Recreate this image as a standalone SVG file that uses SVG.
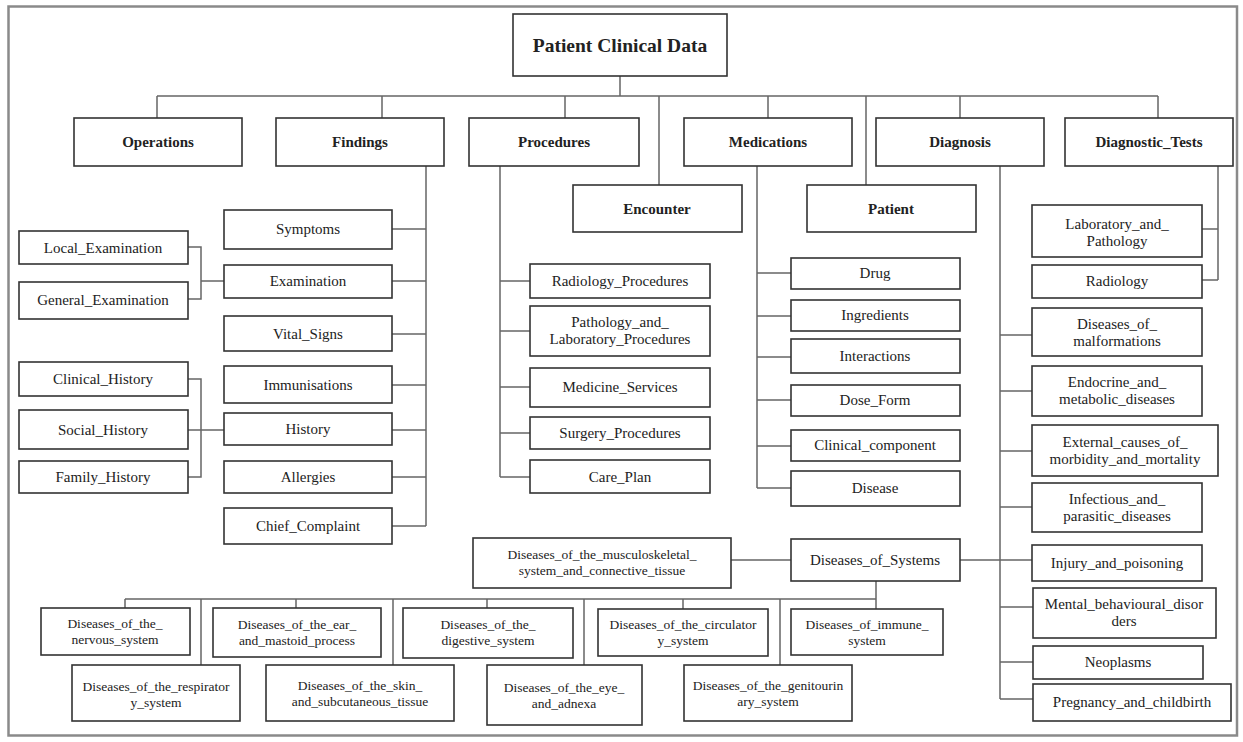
<svg xmlns="http://www.w3.org/2000/svg" width="1243" height="742" viewBox="0 0 1243 742">
<style>
.bg{fill:#fff}
.frame{fill:none;stroke:#8a8a8a;stroke-width:2.5}
.box{fill:#fff;stroke:#333;stroke-width:1.6}
.c{fill:none;stroke:#666;stroke-width:1.5}
text{font-family:"Liberation Serif","Times New Roman",serif;fill:#222;text-anchor:middle}
.t{font-size:15px}
.b{font-size:15px;font-weight:bold}
.h{font-size:19.5px;font-weight:bold}
.s{font-size:13.5px}
</style>
<rect class="bg" x="0" y="0" width="1243" height="742"/>
<rect class="frame" x="8.5" y="6.5" width="1228.5" height="729"/>
<g id="connectors">
<path class="c" d="M620 76V96M157 96H1158M157 96V118M382 96V118M565 96V118M659 96V185M768 96V118M866 96V185M960 96V118M1158 96V118"/>
<path class="c" d="M426 166V526M392 229H426M392 281H426M392 334H426M392 385H426M392 430H426M392 477H426M392 526H426"/>
<path class="c" d="M188 247H201V299H188M201 281H224M188 379H201V477H188M188 430H224"/>
<path class="c" d="M500 166V477M500 281H530M500 331H530M500 387H530M500 433H530M500 477H530"/>
<path class="c" d="M757 166V488M757 273H791M757 316H791M757 357H791M757 400H791M757 446H791M757 488H791"/>
<path class="c" d="M1218 166V280M1202 229H1218M1202 280H1218"/>
<path class="c" d="M1000 166V699M1000 335H1032M1000 391H1032M1000 451H1032M1000 507H1032M1000 607H1033M1000 662H1033M1000 699H1033"/>
<path class="c" d="M960 560H1032M731 560H791M876 581V609M125 599H876"/>
<path class="c" d="M125 599V608M201 599V665M296 599V608M393 599V665M487 599V608M584 599V665M683 599V609M780 599V665"/>
</g>
<g id="patient_clinical_data"><rect class="box" x="513" y="14" width="214" height="62"/><text class="h" x="620" y="52">Patient Clinical Data</text></g>
<g id="operations"><rect class="box" x="74" y="118" width="168" height="48"/><text class="b" x="158" y="147">Operations</text></g>
<g id="findings"><rect class="box" x="276" y="118" width="168" height="48"/><text class="b" x="360" y="147">Findings</text></g>
<g id="procedures"><rect class="box" x="469" y="118" width="170" height="48"/><text class="b" x="554" y="147">Procedures</text></g>
<g id="medications"><rect class="box" x="684" y="118" width="168" height="48"/><text class="b" x="768" y="147">Medications</text></g>
<g id="diagnosis"><rect class="box" x="876" y="118" width="168" height="48"/><text class="b" x="960" y="147">Diagnosis</text></g>
<g id="diagnostic_tests"><rect class="box" x="1065" y="118" width="168" height="48"/><text class="b" x="1149" y="147">Diagnostic_Tests</text></g>
<g id="encounter"><rect class="box" x="573" y="185" width="169" height="47"/><text class="b" x="657" y="214">Encounter</text></g>
<g id="patient"><rect class="box" x="807" y="185" width="169" height="47"/><text class="b" x="891" y="214">Patient</text></g>

<g id="local_examination"><rect class="box" x="19" y="231" width="169" height="33"/><text class="t" x="103" y="253">Local_Examination</text></g>
<g id="general_examination"><rect class="box" x="19" y="282" width="169" height="37"/><text class="t" x="103" y="305">General_Examination</text></g>
<g id="clinical_history"><rect class="box" x="19" y="362" width="169" height="34"/><text class="t" x="103" y="384">Clinical_History</text></g>
<g id="social_history"><rect class="box" x="19" y="410" width="169" height="39"/><text class="t" x="103" y="435">Social_History</text></g>
<g id="family_history"><rect class="box" x="19" y="461" width="169" height="32"/><text class="t" x="103" y="482">Family_History</text></g>

<g id="symptoms"><rect class="box" x="224" y="210" width="168" height="39"/><text class="t" x="308" y="234">Symptoms</text></g>
<g id="examination"><rect class="box" x="224" y="265" width="168" height="33"/><text class="t" x="308" y="286">Examination</text></g>
<g id="vital_signs"><rect class="box" x="224" y="316" width="168" height="35"/><text class="t" x="308" y="339">Vital_Signs</text></g>
<g id="immunisations"><rect class="box" x="224" y="366" width="168" height="37"/><text class="t" x="308" y="390">Immunisations</text></g>
<g id="history"><rect class="box" x="224" y="413" width="168" height="32"/><text class="t" x="308" y="434">History</text></g>
<g id="allergies"><rect class="box" x="224" y="461" width="168" height="32"/><text class="t" x="308" y="482">Allergies</text></g>
<g id="chief_complaint"><rect class="box" x="224" y="508" width="168" height="36"/><text class="t" x="308" y="531">Chief_Complaint</text></g>

<g id="radiology_procedures"><rect class="box" x="530" y="264" width="180" height="34"/><text class="t" x="620" y="286">Radiology_Procedures</text></g>
<g id="pathology_and_laboratory_procedures"><rect class="box" x="530" y="306" width="180" height="50"/><text class="t" x="620" y="327">Pathology_and_</text><text class="t" x="620" y="344">Laboratory_Procedures</text></g>
<g id="medicine_services"><rect class="box" x="530" y="368" width="180" height="39"/><text class="t" x="620" y="392">Medicine_Services</text></g>
<g id="surgery_procedures"><rect class="box" x="530" y="417" width="180" height="32"/><text class="t" x="620" y="438">Surgery_Procedures</text></g>
<g id="care_plan"><rect class="box" x="530" y="460" width="180" height="33"/><text class="t" x="620" y="482">Care_Plan</text></g>

<g id="drug"><rect class="box" x="791" y="258" width="169" height="31"/><text class="t" x="875" y="278">Drug</text></g>
<g id="ingredients"><rect class="box" x="791" y="300" width="169" height="31"/><text class="t" x="875" y="320">Ingredients</text></g>
<g id="interactions"><rect class="box" x="791" y="339" width="169" height="34"/><text class="t" x="875" y="361">Interactions</text></g>
<g id="dose_form"><rect class="box" x="791" y="385" width="169" height="31"/><text class="t" x="875" y="405">Dose_Form</text></g>
<g id="clinical_component"><rect class="box" x="791" y="430" width="169" height="31"/><text class="t" x="875" y="450">Clinical_component</text></g>
<g id="disease"><rect class="box" x="791" y="471" width="169" height="35"/><text class="t" x="875" y="493">Disease</text></g>

<g id="laboratory_and_pathology"><rect class="box" x="1032" y="205" width="170" height="52"/><text class="t" x="1117" y="229">Laboratory_and_</text><text class="t" x="1117" y="246">Pathology</text></g>
<g id="radiology"><rect class="box" x="1032" y="265" width="170" height="33"/><text class="t" x="1117" y="286">Radiology</text></g>
<g id="diseases_of_malformations"><rect class="box" x="1032" y="308" width="170" height="48"/><text class="t" x="1117" y="329">Diseases_of_</text><text class="t" x="1117" y="346">malformations</text></g>
<g id="endocrine_and_metabolic_diseases"><rect class="box" x="1032" y="366" width="170" height="50"/><text class="t" x="1117" y="387">Endocrine_and_</text><text class="t" x="1117" y="404">metabolic_diseases</text></g>
<g id="external_causes"><rect class="box" x="1032" y="425" width="186" height="51"/><text class="t" x="1125" y="447">External_causes_of_</text><text class="t" x="1125" y="464">morbidity_and_mortality</text></g>
<g id="infectious_and_parasitic_diseases"><rect class="box" x="1032" y="483" width="170" height="49"/><text class="t" x="1117" y="504">Infectious_and_</text><text class="t" x="1117" y="521">parasitic_diseases</text></g>
<g id="injury_and_poisoning"><rect class="box" x="1032" y="545" width="170" height="36"/><text class="t" x="1117" y="568">Injury_and_poisoning</text></g>
<g id="mental_behavioural_disorders"><rect class="box" x="1033" y="588" width="183" height="50"/><text class="t" x="1124" y="609">Mental_behavioural_disor</text><text class="t" x="1124" y="626">ders</text></g>
<g id="neoplasms"><rect class="box" x="1033" y="646" width="170" height="33"/><text class="t" x="1118" y="667">Neoplasms</text></g>
<g id="pregnancy_and_childbirth"><rect class="box" x="1033" y="684" width="198" height="37"/><text class="t" x="1132" y="707">Pregnancy_and_childbirth</text></g>

<g id="diseases_of_systems"><rect class="box" x="791" y="539" width="169" height="42"/><text class="t" x="875" y="565">Diseases_of_Systems</text></g>
<g id="musculoskeletal"><rect class="box" x="473" y="538" width="258" height="50"/><text class="s" x="602" y="559">Diseases_of_the_musculoskeletal_</text><text class="s" x="602" y="575">system_and_connective_tissue</text></g>
<g id="nervous_system"><rect class="box" x="41" y="608" width="149" height="47"/><text class="s" x="115" y="628">Diseases_of_the_</text><text class="s" x="115" y="644">nervous_system</text></g>
<g id="respiratory_system"><rect class="box" x="72" y="665" width="168" height="56"/><text class="s" x="156" y="691">Diseases_of_the_respirator</text><text class="s" x="156" y="707">y_system</text></g>
<g id="ear_mastoid"><rect class="box" x="213" y="608" width="168" height="49"/><text class="s" x="297" y="629">Diseases_of_the_ear_</text><text class="s" x="297" y="645">and_mastoid_process</text></g>
<g id="skin_subcutaneous"><rect class="box" x="266" y="665" width="188" height="56"/><text class="s" x="360" y="690">Diseases_of_the_skin_</text><text class="s" x="360" y="706">and_subcutaneous_tissue</text></g>
<g id="digestive_system"><rect class="box" x="403" y="608" width="170" height="50"/><text class="s" x="488" y="629">Diseases_of_the_</text><text class="s" x="488" y="645">digestive_system</text></g>
<g id="eye_adnexa"><rect class="box" x="487" y="665" width="155" height="60"/><text class="s" x="564" y="692">Diseases_of_the_eye_</text><text class="s" x="564" y="708">and_adnexa</text></g>
<g id="circulatory_system"><rect class="box" x="598" y="609" width="170" height="47"/><text class="s" x="683" y="629">Diseases_of_the_circulator</text><text class="s" x="683" y="645">y_system</text></g>
<g id="genitourinary_system"><rect class="box" x="684" y="665" width="168" height="56"/><text class="s" x="768" y="690">Diseases_of_the_genitourin</text><text class="s" x="768" y="706">ary_system</text></g>
<g id="immune_system"><rect class="box" x="791" y="609" width="152" height="46"/><text class="s" x="867" y="629">Diseases_of_immune_</text><text class="s" x="867" y="645">system</text></g>
</svg>
